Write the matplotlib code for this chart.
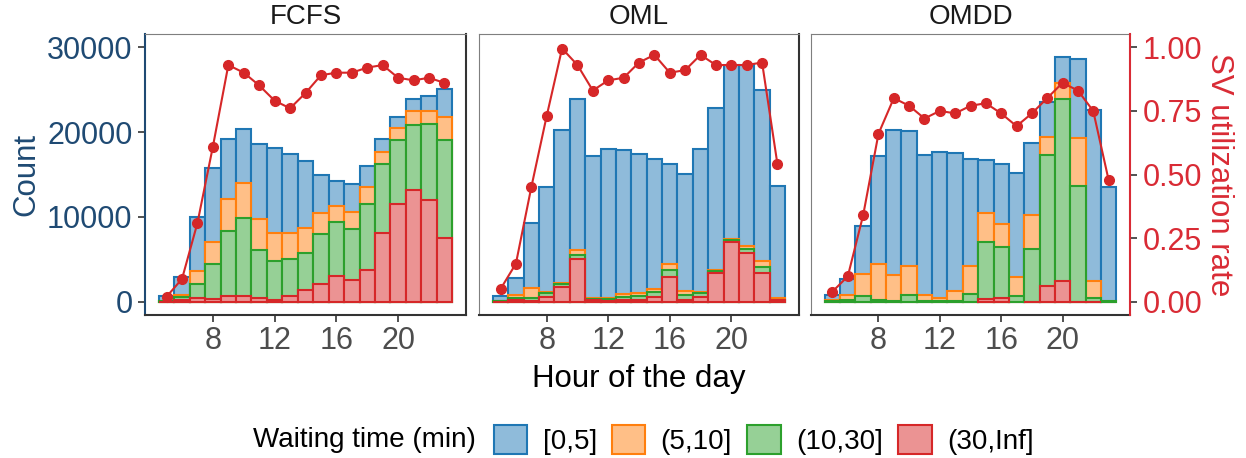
import matplotlib.pyplot as plt
import numpy as np
from matplotlib import ticker
from matplotlib.colors import to_rgb

plt.rcParams['font.family'] = ['Liberation Sans', 'DejaVu Sans']

hours = list(range(5, 24))
panels = ["FCFS", "OML", "OMDD"]
bins = ["[0,5]", "(5,10]", "(10,30]", "(30,Inf]"]

# counts per waiting-time class (as drawn, overlapping bars)
fcfs_0_5 = [700, 2950, 10000, 15750, 19200, 20400, 18550, 18100, 17400, 16650, 15000, 14250, 13900, 15950, 19150, 21750, 23850, 24250, 25100]
fcfs_5_10 = [100, 800, 3650, 7000, 12100, 14050, 9750, 8150, 8150, 8650, 10450, 11250, 10550, 13550, 17650, 20500, 22450, 22500, 21750]
fcfs_10_30 = [50, 600, 2100, 4400, 8350, 9900, 6150, 4800, 5000, 5700, 7950, 9350, 8550, 11550, 16250, 19100, 20850, 21000, 19050]
fcfs_30_inf = [30, 150, 450, 300, 700, 700, 400, 250, 650, 1350, 2050, 3000, 2550, 3750, 8050, 11550, 13200, 12050, 7550]
fcfs_util = [0.02, 0.09, 0.31, 0.61, 0.93, 0.90, 0.85, 0.79, 0.76, 0.82, 0.89, 0.90, 0.90, 0.92, 0.93, 0.88, 0.87, 0.88, 0.86]

oml_0_5 = [700, 2800, 9300, 13550, 20250, 23850, 17150, 18050, 17900, 17450, 16800, 16200, 15100, 18050, 22800, 27850, 27850, 25000, 13600]
oml_5_10 = [100, 850, 1650, 1200, 2250, 6100, 450, 500, 950, 1000, 1550, 4450, 1250, 1150, 3750, 7350, 6550, 4800, 500]
oml_10_30 = [80, 400, 450, 1000, 2100, 5500, 350, 350, 600, 700, 1100, 3800, 800, 1000, 3650, 7250, 6200, 4100, 250]
oml_30_inf = [20, 200, 50, 600, 1700, 5000, 150, 100, 250, 250, 600, 2950, 250, 600, 3400, 7000, 5750, 3350, 150]
oml_util = [0.05, 0.15, 0.45, 0.73, 0.995, 0.93, 0.83, 0.87, 0.88, 0.94, 0.97, 0.90, 0.91, 0.97, 0.93, 0.93, 0.93, 0.94, 0.54]

omdd_0_5 = [800, 2650, 8950, 17200, 20250, 20100, 17250, 17650, 17550, 16800, 16750, 16200, 15200, 18750, 23600, 28800, 28650, 22650, 13500]
omdd_5_10 = [200, 800, 3250, 4450, 3150, 4250, 800, 450, 1300, 4250, 10450, 9200, 2950, 10250, 19400, 25750, 19300, 2450, 0]
omdd_10_30 = [80, 200, 700, 250, 100, 800, 100, 50, 100, 900, 7000, 6400, 650, 6250, 17350, 23950, 13650, 450, 50]
omdd_30_inf = [None, None, None, None, None, None, None, None, None, None, 350, 450, None, 0, 1900, 2450, 0, 0, None]
omdd_util = [0.04, 0.10, 0.34, 0.66, 0.80, 0.77, 0.72, 0.75, 0.74, 0.77, 0.78, 0.74, 0.69, 0.74, 0.80, 0.86, 0.83, 0.75, 0.48]

counts = {
    "FCFS": [fcfs_0_5, fcfs_5_10, fcfs_10_30, fcfs_30_inf],
    "OML": [oml_0_5, oml_5_10, oml_10_30, oml_30_inf],
    "OMDD": [omdd_0_5, omdd_5_10, omdd_10_30, omdd_30_inf],
}
util = {"FCFS": fcfs_util, "OML": oml_util, "OMDD": omdd_util}

colors = ["#1f77b4", "#ff7f0e", "#2ca02c", "#d62728"]
# half-transparent look over white, but opaque so layers don't mix
fills = [tuple(0.5 * c + 0.5 for c in to_rgb(col)) for col in colors]
navy = "#1f4a73"
red = "#d92b35"
line_red = "#d62728"
dark = "#333333"
scale = 30000
ylo, yhi = -1560, 31560

W, H = 1246, 458
fig = plt.figure(figsize=(W / 100, H / 100), dpi=100)


def box(l, r, t, b):
    return [l / W, 1 - b / H, (r - l) / W, (b - t) / H]


lefts = [(145, 466), (479, 799), (811, 1130)]
handles = []
for i, name in enumerate(panels):
    ax = fig.add_axes(box(lefts[i][0], lefts[i][1], 34, 315))
    for j, vals in enumerate(counts[name]):
        v = np.array([np.nan if x is None else x for x in vals], dtype=float)
        bc = ax.bar(hours, v, width=1.0, facecolor=fills[j],
                    edgecolor=colors[j], linewidth=1.5, label=bins[j])
        if i == 0:
            handles.append(bc)
    ax.set_xlim(3.6, 24.4)
    ax.set_ylim(ylo, yhi)
    ax.set_xticks([8, 12, 16, 20])
    ax.tick_params(axis='x', labelsize=22, labelcolor="#4d4d4d", color=dark,
                   length=5, width=1.2, pad=3)
    ax.set_title(name, fontsize=20, color="#1a1a1a", pad=7)

    tw = ax.twinx()
    tw.set_ylim(ylo / scale, yhi / scale)
    tw.plot(hours, util[name], "-o", color=line_red, linewidth=1.5, markersize=7)
    for s in tw.spines.values():
        s.set_visible(False)

    ax.spines["top"].set_color("#7f7f7f")
    ax.spines["top"].set_linewidth(0.8)
    ax.spines["bottom"].set_color(dark)
    ax.spines["bottom"].set_linewidth(1.5)
    ax.spines["right"].set_color(dark)
    ax.spines["right"].set_linewidth(1.5)
    ax.spines["left"].set_color("#7f7f7f")
    ax.spines["left"].set_linewidth(0.8)

    if i == 0:
        ax.set_yticks([0, 10000, 20000, 30000])
        ax.yaxis.set_major_formatter(ticker.StrMethodFormatter("{x:.0f}"))
        ax.tick_params(axis='y', labelsize=22, labelcolor=navy, color=dark,
                       length=5, width=1.2, pad=4)
        ax.spines["left"].set_color(navy)
        ax.spines["left"].set_linewidth(1.5)
        ax.set_ylabel("Count", fontsize=22.5, color=navy, labelpad=4)
    else:
        ax.tick_params(axis='y', left=False, labelleft=False, right=False)
    if i == 1:
        ax.set_xlabel("Hour of the day", fontsize=22.5, color="black", labelpad=6)

    if i == 2:
        ax.spines["right"].set_visible(False)
        tw.spines["right"].set_visible(True)
        tw.spines["right"].set_color(red)
        tw.spines["right"].set_linewidth(1.5)
        tw.set_yticks([0, 0.25, 0.5, 0.75, 1.0])
        tw.yaxis.set_major_formatter(ticker.StrMethodFormatter("{x:.2f}"))
        tw.tick_params(axis='y', labelsize=22, labelcolor=red, color=dark,
                       length=5, width=1.2, pad=4)
        tw.set_ylabel("SV utilization rate", fontsize=22.5, color=red,
                      rotation=270, labelpad=23)
    else:
        tw.set_yticks([])

fig.text(253 / W, 1 - 440 / H, "Waiting time (min)", fontsize=20,
         ha="left", va="center", color="black")
fig.legend(handles=handles, labels=bins, loc="center left",
           bbox_to_anchor=(494 / W, 1 - 440 / H), ncol=4, frameon=False,
           fontsize=20, handlelength=1.2, handleheight=1.2,
           handletextpad=0.55, columnspacing=0.55, borderpad=0,
           borderaxespad=0)

fig.savefig("out.png", dpi=100)
